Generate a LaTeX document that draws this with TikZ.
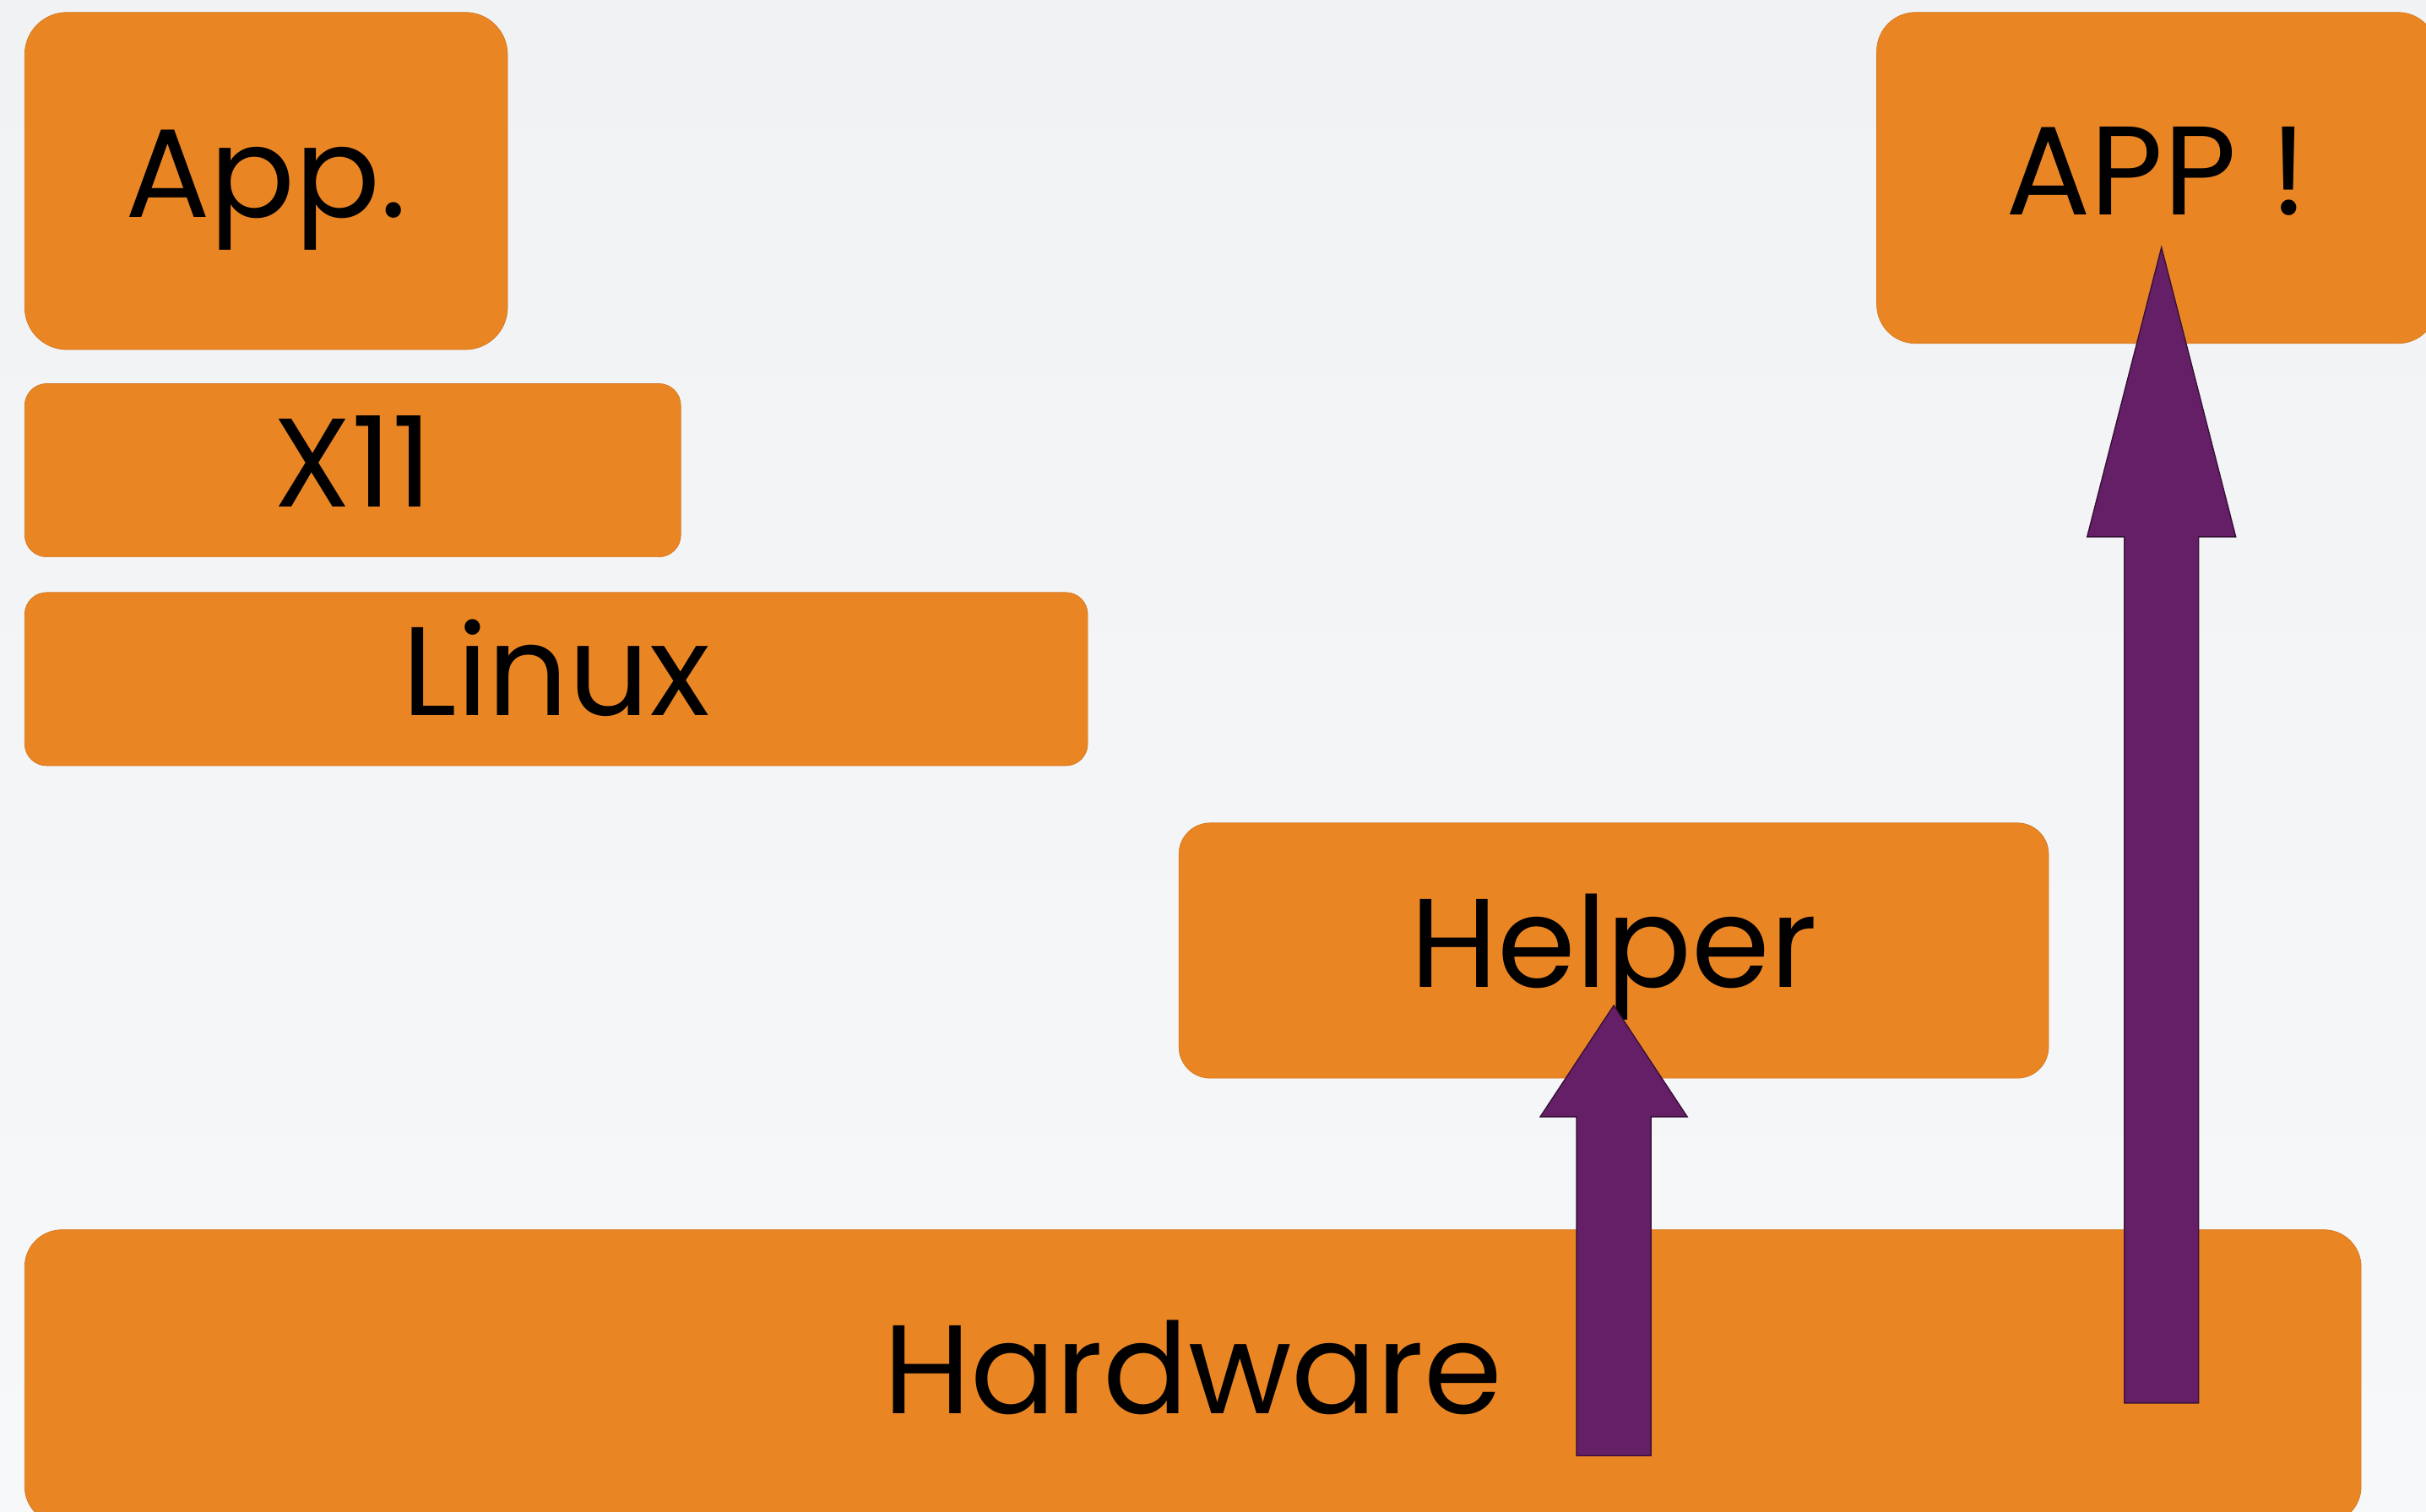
\documentclass[tikz,border=0pt]{standalone}
\usepackage{fontspec}
\setmainfont{Poppins}
\usepackage{tikz}
\usetikzlibrary{calc}

\definecolor{layerorange}{HTML}{EA8524}
\definecolor{arrowpurple}{HTML}{651F66}
\definecolor{bgtop}{HTML}{F1F2F4}
\definecolor{bgbot}{HTML}{F7F8FA}

\begin{document}
\begin{tikzpicture}[x=0.18323mm, y=-0.18323mm,
  layer/.style={fill=layerorange, draw=layerorange!90!black, line width=0.2pt,
                rounded corners=0.26cm, inner sep=0pt, text height=29pt, text depth=4.2pt,
                font=\fontsize{42.5}{50}\selectfont},
  tallbox/.style={layer, rounded corners=0.5cm},
  uparrow/.style={fill=arrowpurple, draw=arrowpurple!55!black, line width=0.4pt}
]
\useasboundingbox (0,0) rectangle (1568,977);
\shade[top color=bgtop, bottom color=bgbot] (0,0) rectangle (1568,977);

% left stack
\node[tallbox, minimum width=5.717cm, minimum height=3.994cm] (app) at (172,117) {App.};
\node[layer, minimum width=7.769cm, minimum height=2.052cm] (x11) at (228,304) {X11};
\node[layer, minimum width=12.588cm, minimum height=2.052cm] (linux) at (359.5,439) {Linux};

% right side
\node[tallbox, rounded corners=0.37cm, minimum width=10.298cm, minimum height=3.023cm] (helper) at (1043,614.5) {Helper};
\node[tallbox, rounded corners=0.46cm, minimum width=6.633cm, minimum height=3.921cm] (appx) at (1394,115) {APP !};
\node[layer, rounded corners=0.44cm, minimum width=27.668cm, minimum height=3.481cm] (hw) at (771,890) {Hardware};

% arrows
\coordinate (tailA) at (1043,941);
\coordinate (tipA) at (1043,650);
\coordinate (tailB) at (1397,907);
\coordinate (tipB) at (1397,160);

\draw[uparrow] ($(tailA)+(-24,0)$) -- ++(0,-219) -- ++(-23.5,0) -- (tipA)
  -- ++(47.5,72) -- ++(-23.5,0) -- ++(0,219) -- cycle;
\draw[uparrow] ($(tailB)+(-24,0)$) -- ++(0,-560) -- ++(-24,0) -- (tipB)
  -- ++(48,187) -- ++(-24,0) -- ++(0,560) -- cycle;
\end{tikzpicture}
\end{document}
